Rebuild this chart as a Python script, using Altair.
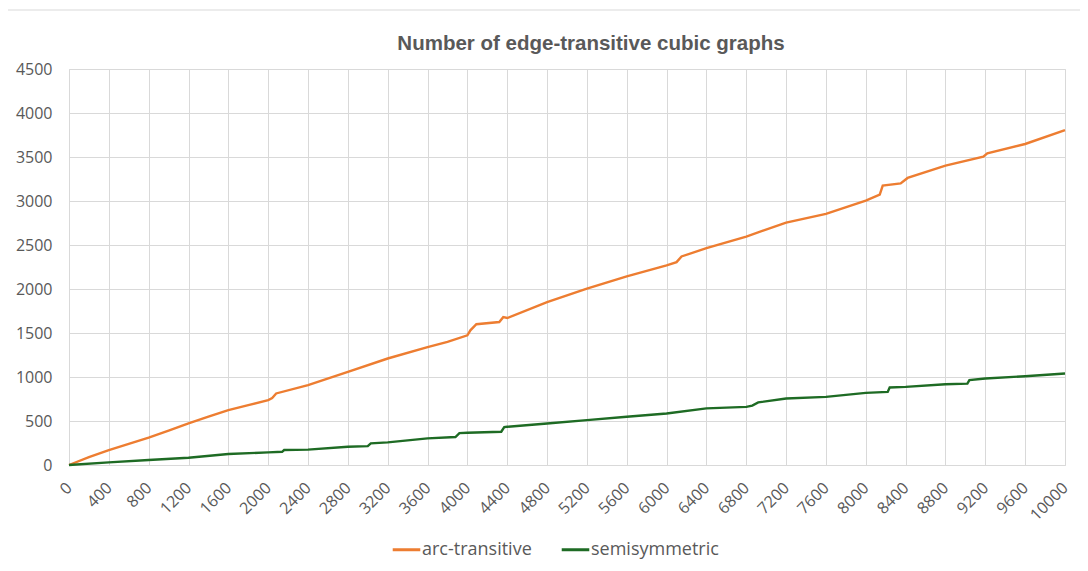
import altair as alt
import pandas as pd

# ---- data ----
arc_n = [0, 200, 400, 600, 800, 1000, 1200, 1400, 1600, 1800, 2000, 2040, 2080, 2400,
         2800, 3200, 3600, 3800, 4000, 4030, 4090, 4320, 4360, 4400, 4800, 5200, 5600,
         6000, 6100, 6150, 6400, 6800, 7200, 7600, 8000, 8140, 8170, 8350, 8420, 8800,
         9180, 9220, 9600, 10000]
arc_count = [0, 90, 170, 240, 310, 390, 473, 550, 623, 680, 737, 760, 813, 907,
             1058, 1210, 1340, 1400, 1474, 1530, 1600, 1625, 1680, 1670, 1852, 2003, 2143,
             2268, 2305, 2370, 2464, 2596, 2755, 2854, 3005, 3072, 3175, 3200, 3262, 3402,
             3503, 3541, 3648, 3806]

semi_n = [0, 400, 800, 1200, 1600, 2000, 2140, 2160, 2400, 2800, 3000, 3030, 3200,
          3600, 3880, 3920, 4000, 4340, 4370, 4400, 4800, 5200, 5600, 6000, 6400, 6800,
          6860, 6920, 7200, 7600, 8000, 8220, 8240, 8400, 8800, 9020, 9040, 9200, 9600, 10000]
semi_count = [0, 30, 57, 83, 125, 143, 150, 170, 175, 208, 215, 246, 257,
              302, 318, 362, 366, 378, 430, 434, 472, 510, 548, 586, 643, 661,
              675, 711, 756, 774, 820, 831, 881, 888, 918, 925, 964, 983, 1009, 1040]

series_names = ["arc-transitive", "semisymmetric"]
series_colors = ["#ED7D31", "#1E6B24"]
x_ticks = list(range(0, 10001, 400))
y_ticks = list(range(0, 4501, 500))
title_text = "Number of edge-transitive cubic graphs"

df = pd.concat([
    pd.DataFrame({"n": arc_n, "count": arc_count, "series": series_names[0]}),
    pd.DataFrame({"n": semi_n, "count": semi_count, "series": series_names[1]}),
], ignore_index=True)

TXT = "#595959"
GRID = "#d9d9d9"
FONT = "Open Sans"

lines = alt.Chart(df).mark_line(strokeWidth=2.4).encode(
    x=alt.X("n:Q",
            scale=alt.Scale(domain=[0, 10000], nice=False),
            axis=alt.Axis(values=x_ticks, title=None, labelAngle=-45, labelAlign="right",
                          labelBaseline="middle", labelPadding=20, labelFontSize=16,
                          labelColor=TXT, labelFont=FONT, ticks=False, domain=False,
                          grid=True, gridColor=GRID, gridWidth=1, labelOverlap=False,
                          labelFlush=False, format="d")),
    y=alt.Y("count:Q",
            scale=alt.Scale(domain=[0, 4500], nice=False),
            axis=alt.Axis(values=y_ticks, title=None, labelPadding=17, labelFontSize=16,
                          labelColor=TXT, labelFont=FONT, ticks=False, domain=False,
                          grid=True, gridColor=GRID, gridWidth=1, format="d")),
    color=alt.Color("series:N",
                    scale=alt.Scale(domain=series_names, range=series_colors),
                    legend=alt.Legend(title=None, orient="none", legendX=322, legendY=465,
                                      direction="horizontal", symbolType="stroke",
                                      symbolStrokeWidth=3, symbolSize=760,
                                      labelFontSize=18, labelColor=TXT, labelFont=FONT,
                                      columnPadding=23, labelOffset=0)),
    order="n:Q",
)

border = alt.Chart(pd.DataFrame({"a": [0]})).mark_rect(
    fill=None, stroke=GRID, strokeWidth=1, clip=False
).encode(x=alt.value(-62), x2=alt.value(1012), y=alt.value(-59), y2=alt.value(530))

chart = alt.layer(border, lines).properties(
    width=996, height=396,
    title=alt.TitleParams(title_text, fontSize=20.5, font="Liberation Sans",
                          fontWeight="bold", color=TXT, anchor="middle", dx=24,
                          offset=0, dy=45),
    autosize=alt.AutoSizeParams(type="none"),
    padding={"left": 61, "top": 61, "right": 15, "bottom": 98},
).configure_view(strokeWidth=0).configure(background="white")

chart.save("out.html", embed_options={"renderer": "svg", "actions": False})
